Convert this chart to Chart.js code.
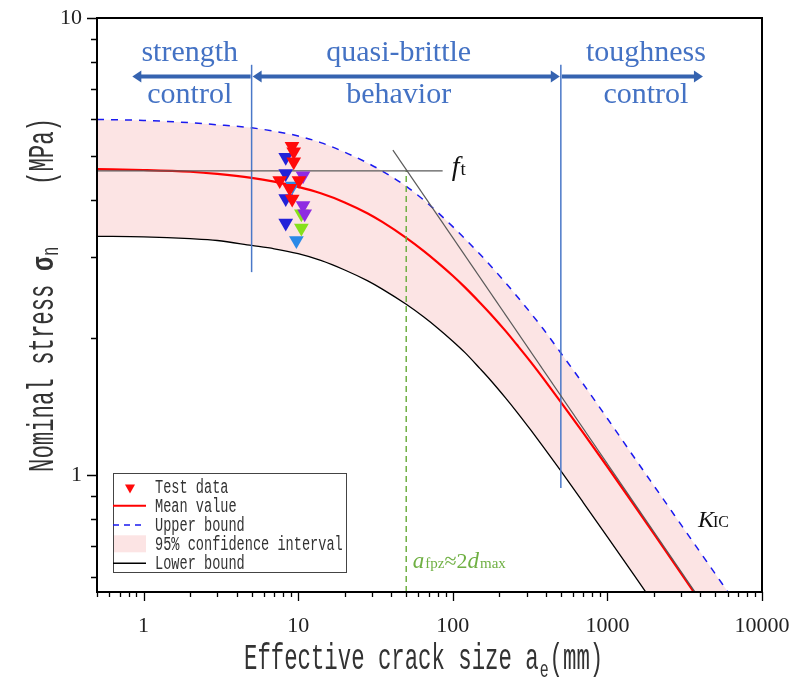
<!DOCTYPE html>
<html><head><meta charset="utf-8">
<script src="https://cdn.jsdelivr.net/npm/chart.js@4.4.1/dist/chart.umd.min.js"></script>
<style>html,body{margin:0;padding:0;background:#fff;}#wrap{width:792px;height:682px;}</style>
</head><body><div id="wrap"><canvas id="c" width="792" height="682"></canvas></div>
<script>
// ---------------- data ----------------
const crackSize  = [0.5, 1, 2, 3, 5, 7, 10, 14, 20, 28, 35, 50, 65, 80, 100, 120, 150, 175, 220, 260, 320, 385, 500, 700, 1000, 1500, 2200, 3500, 5500, 8000];
const meanValue  = [4.67, 4.65, 4.61, 4.56, 4.47, 4.385, 4.27, 4.135, 3.95, 3.74, 3.58, 3.304, 3.091, 2.917, 2.73, 2.575, 2.384, 2.255, 2.065, 1.928, 1.767, 1.628, 1.445, 1.236, 1.043, 0.857, 0.710, 0.5645, 0.451, 0.374];
const upperBound = [6.00, 5.97, 5.90, 5.84, 5.75, 5.654, 5.52, 5.338, 5.087, 4.82, 4.625, 4.284, 3.996, 3.755, 3.496, 3.289, 3.042, 2.876, 2.633, 2.463, 2.26, 2.087, 1.85, 1.58, 1.33, 1.09, 0.905, 0.722, 0.580, 0.483];
const lowerBound = [3.33, 3.32, 3.29, 3.26, 3.18, 3.127, 3.05, 2.949, 2.81, 2.663, 2.552, 2.364, 2.217, 2.096, 1.963, 1.853, 1.71, 1.615, 1.474, 1.374, 1.254, 1.153, 1.021, 0.870, 0.733, 0.602, 0.499, 0.397, 0.317, 0.263];

const testSize   = [9.12, 9.36, 9.36, 7.60, 10.13, 8.82, 9.15, 8.31, 8.31, 8.31, 8.31, 10.75, 10.75, 11.02, 10.49, 10.49, 9.19, 9.74];
const testStress = [5.24, 5.10, 4.85, 4.41, 4.41, 4.24, 4.02, 4.96, 4.57, 4.03, 3.56, 4.52, 3.89, 3.73, 3.73, 3.47, 4.29, 3.26];
const testGroup  = ['A','A','A','A','A','A','A','B','B','B','B','C','C','C','D','D','E','E'];

const ftSize = [0.5, 86];          const ftStress = [4.63, 4.63];
const kicSize = [41, 3690];        const kicStress = [5.14, 0.555];
const fpzSize = [50, 50];          const fpzStress = [0.555, 4.63];
const limit1Size = [5, 5];         const limit1Stress = [2.78, 7.9];
const limit2Size = [500, 500];     const limit2Stress = [0.937, 7.9];

const xTickValues = [1, 10, 100, 1000, 10000];
const xTickLabels = ['1', '10', '100', '1000', '10000'];
const yTickValues = [1, 10];
const yTickLabels = ['1', '10'];

const legendLabels = ['Test data', 'Mean value', 'Upper bound', '95% confidence interval', 'Lower bound'];

// ---------------- styles ----------------
const groupColors = {A:'#ff0a0a', B:'#2222d8', C:'#8e2be2', D:'#86e01c', E:'#2a8ae8'};
const regionColor = '#4472c4';
const arrowColor = '#3563b0';
const mono = '"Liberation Mono", "DejaVu Sans Mono", monospace';
const serif = '"Liberation Serif", "DejaVu Serif", serif';

const pts = (xs, ys) => xs.map((x, i) => ({x, y: ys[i]}));

const groups = ['A','B','C','D','E'];
const testSets = groups.map(g => ({
  label: 'Test data ' + g,
  data: testSize.map((x, i) => ({x, y: testStress[i], g: testGroup[i]})).filter(p => p.g === g),
  pointStyle: 'triangle', rotation: 180, pointRadius: 8.5, pointHoverRadius: 8.5,
  backgroundColor: groupColors[g], borderColor: groupColors[g], borderWidth: 0, showLine: false
}));

const lineSet = (label, data, color, width, dash, extra) => Object.assign({
  label, data, borderColor: color, borderWidth: width, borderDash: dash || [],
  pointRadius: 0, pointHoverRadius: 0, showLine: true, fill: false, backgroundColor: color
}, extra || {});

const datasets = [
  ...testSets,
  lineSet('f_t', pts(ftSize, ftStress), '#5a5a5a', 1.2),
  lineSet('K_IC', pts(kicSize, kicStress), '#5a5a5a', 1.2),
  lineSet('limit1', pts(limit1Size, limit1Stress), '#4a78c8', 1.5),
  lineSet('limit2', pts(limit2Size, limit2Stress), '#4a78c8', 1.5),
  lineSet('a_fpz', pts(fpzSize, fpzStress), '#6fb043', 1.5, [6, 4]),
  lineSet('Mean value', pts(crackSize, meanValue), '#ff0000', 2.2, [], {cubicInterpolationMode: 'monotone'}),
  lineSet('Upper bound', pts(crackSize, upperBound), '#1a1af0', 1.5, [7, 7],
          {cubicInterpolationMode: 'monotone', fill: '+1', backgroundColor: '#fce4e4'}),
  lineSet('Lower bound', pts(crackSize, lowerBound), '#000000', 1.3, [], {cubicInterpolationMode: 'monotone'})
];

// ---------------- helpers ----------------
function txt(ctx, s, x, y, font, color, sx, align, baseline) {
  sx = sx || 1;
  ctx.save();
  ctx.font = font; ctx.fillStyle = color; ctx.textAlign = 'left'; ctx.textBaseline = baseline || 'alphabetic';
  const w = ctx.measureText(s).width * sx;
  const x0 = align === 'center' ? x - w / 2 : align === 'right' ? x - w : x;
  ctx.translate(x0, y); ctx.scale(sx, 1); ctx.fillText(s, 0, 0);
  ctx.restore();
  return w;
}
function arrowHead(ctx, tipX, y, dir, len, half) {
  ctx.beginPath();
  ctx.moveTo(tipX, y);
  ctx.lineTo(tipX - dir * len, y - half);
  ctx.lineTo(tipX - dir * len, y + half);
  ctx.closePath(); ctx.fill();
}

const annotations = {
  arrowStress: 7.45,
  arrowLeft: 0.846, arrowRight: 4150,
  upperTextStress: 8.05, lowerTextStress: 6.52,
  regions: [
    {x: 1.99, top: 'strength', bottom: 'control'},
    {x: 44.7, top: 'quasi-brittle', bottom: 'behavior'},
    {x: 1776, top: 'toughness', bottom: 'control'}
  ],
  ft: {x: 98.6, y: 4.53},
  kic: {x: 3855, y: 0.769},
  fpz: {x: 55.1, y: 0.626}
};

const decor = {
  id: 'decor',
  afterDatasetsDraw(chart) {
    const ctx = chart.ctx, a = chart.chartArea;
    const xs = chart.scales.x, ys = chart.scales.y;
    ctx.save();
    // frame
    ctx.strokeStyle = '#000'; ctx.lineWidth = 2;
    ctx.strokeRect(a.left, a.top, a.right - a.left, a.bottom - a.top);
    // tick marks
    ctx.lineWidth = 1.3;
    ctx.beginPath();
    for (let d = 0.1; d <= 10000; d *= 10) {
      for (let k = 1; k <= 9; k++) {
        const v = Math.round(k * d * 1000) / 1000;
        if (v >= xs.min - 1e-9 && v <= xs.max + 1e-9) {
          const px = Math.round(xs.getPixelForValue(v)) + 0.5;
          ctx.moveTo(px, a.bottom); ctx.lineTo(px, a.bottom + (k === 1 ? 9 : 5));
        }
        if (v >= ys.min - 1e-9 && v <= ys.max + 1e-9) {
          const py = Math.round(ys.getPixelForValue(v)) + 0.5;
          ctx.moveTo(a.left, py); ctx.lineTo(a.left - (k === 1 ? 10 : 6), py);
        }
      }
    }
    ctx.stroke();

    // region arrows
    const ay = ys.getPixelForValue(annotations.arrowStress);
    const xL = xs.getPixelForValue(annotations.arrowLeft);
    const x1 = xs.getPixelForValue(limit1Size[0]);
    const x2 = xs.getPixelForValue(limit2Size[0]);
    const xR = xs.getPixelForValue(annotations.arrowRight);
    ctx.strokeStyle = arrowColor; ctx.fillStyle = arrowColor; ctx.lineWidth = 4;
    ctx.beginPath();
    ctx.moveTo(xL + 6, ay); ctx.lineTo(x1 - 1, ay);
    ctx.moveTo(x1 + 6, ay); ctx.lineTo(x2 - 6, ay);
    ctx.moveTo(x2 + 1, ay); ctx.lineTo(xR - 6, ay);
    ctx.stroke();
    arrowHead(ctx, xL, ay, -1, 9, 6);
    arrowHead(ctx, x1 + 1, ay, -1, 9, 6);
    arrowHead(ctx, x2 - 1, ay, 1, 9, 6);
    arrowHead(ctx, xR, ay, 1, 9, 6);

    // region labels
    const ty1 = ys.getPixelForValue(annotations.upperTextStress);
    const ty2 = ys.getPixelForValue(annotations.lowerTextStress);
    annotations.regions.forEach(r => {
      const cx = xs.getPixelForValue(r.x);
      txt(ctx, r.top, cx, ty1, '30px ' + serif, regionColor, 1, 'center');
      txt(ctx, r.bottom, cx, ty2, '30px ' + serif, regionColor, 1, 'center');
    });

    // f_t label
    let px = xs.getPixelForValue(annotations.ft.x), py = ys.getPixelForValue(annotations.ft.y);
    let w = txt(ctx, 'f', px, py, 'italic 28px ' + serif, '#111');
    txt(ctx, 't', px + w + 1, py, '19px ' + serif, '#111');
    // K_IC label
    px = xs.getPixelForValue(annotations.kic.x); py = ys.getPixelForValue(annotations.kic.y);
    w = txt(ctx, 'K', px, py, 'italic 24px ' + serif, '#111');
    txt(ctx, 'IC', px + w - 1, py, '16px ' + serif, '#111');
    // a_fpz label
    px = xs.getPixelForValue(annotations.fpz.x); py = ys.getPixelForValue(annotations.fpz.y);
    const g = '#6fb043';
    let cx = px;
    cx += txt(ctx, 'a', cx, py, 'italic 23px ' + serif, g);
    cx += txt(ctx, 'fpz', cx + 1, py, '15px ' + serif, g) + 1;
    cx += txt(ctx, '≈2', cx, py, '22px ' + serif, g);
    cx += txt(ctx, 'd', cx, py, 'italic 23px ' + serif, g);
    txt(ctx, 'max', cx + 1, py, '15px ' + serif, g);

    // legend
    const lx = a.left + 16, lt = 473, lw = 233, lh = 99;
    ctx.fillStyle = '#fff'; ctx.fillRect(lx, lt, lw, lh);
    ctx.strokeStyle = '#444'; ctx.lineWidth = 1;
    ctx.strokeRect(lx + 0.5, lt + 0.5, lw, lh);
    const rows = [486.5, 505.7, 525, 544.3, 563.3];
    const sx0 = lx, sx1 = lx + 33, tx = lx + 42;
    ctx.fillStyle = groupColors.A;
    ctx.beginPath(); ctx.moveTo(sx0 + 12, rows[0] - 2); ctx.lineTo(sx0 + 22, rows[0] - 2); ctx.lineTo(sx0 + 17, rows[0] + 7); ctx.closePath(); ctx.fill();
    ctx.lineWidth = 2; ctx.strokeStyle = '#ff0000';
    ctx.beginPath(); ctx.moveTo(sx0, rows[1]); ctx.lineTo(sx1, rows[1]); ctx.stroke();
    ctx.lineWidth = 1.5; ctx.strokeStyle = '#1a1af0'; ctx.setLineDash([6, 5]);
    ctx.beginPath(); ctx.moveTo(sx0, rows[2]); ctx.lineTo(sx1, rows[2]); ctx.stroke();
    ctx.setLineDash([]);
    ctx.fillStyle = '#fce4e4'; ctx.fillRect(sx0 + 1, rows[3] - 9, 32, 17);
    ctx.lineWidth = 1.5; ctx.strokeStyle = '#000';
    ctx.beginPath(); ctx.moveTo(sx0, rows[4]); ctx.lineTo(sx1, rows[4]); ctx.stroke();
    legendLabels.forEach((s, i) => txt(ctx, s, tx, rows[i] + 6, '20px ' + mono, '#333', 0.68));

    // axis titles
    const tf = '36px ' + mono, sf = '24px ' + mono, tsx = 0.62;
    let xx = 244;
    xx += txt(ctx, 'Effective crack size a', xx, 669, tf, '#333', tsx);
    xx += txt(ctx, 'e', xx + 1, 677, sf, '#333', tsx) + 2;
    txt(ctx, '(mm)', xx, 669, tf, '#333', tsx);
    ctx.save();
    ctx.translate(53, 472); ctx.rotate(-Math.PI / 2);
    let yy = 0;
    yy += txt(ctx, 'Nominal stress ', 0, 0, tf, '#333', tsx);
    yy += txt(ctx, 'σ', yy, 0, 'bold 32px ' + mono, '#333', 0.75);
    yy += txt(ctx, 'n', yy + 1, 5, sf, '#333', tsx);
    txt(ctx, '(MPa)', 472 - 118, 0, tf, '#333', tsx, 'right');
    ctx.restore();

    ctx.restore();
  }
};

new Chart(document.getElementById('c'), {
  type: 'scatter',
  data: {datasets},
  options: {
    responsive: false, animation: false, devicePixelRatio: 1,
    layout: {padding: {top: 18, right: 30, left: 0, bottom: 0}},
    plugins: {legend: {display: false}, tooltip: {enabled: false}, filler: {drawTime: 'beforeDatasetsDraw'}},
    scales: {
      x: {
        type: 'logarithmic', min: 0.5, max: 10000,
        afterFit(s) { s.height = 90; s.paddingLeft = 0; s.paddingRight = 0; },
        afterBuildTicks(s) { s.ticks = xTickValues.map(v => ({value: v})); },
        ticks: {autoSkip: false, maxRotation: 0, padding: 21, color: '#222',
                font: {family: serif, size: 22},
                callback: (v, i) => xTickLabels[i]},
        grid: {display: false, drawTicks: false}, border: {display: false}
      },
      y: {
        type: 'logarithmic', min: 0.555, max: 10,
        afterFit(s) { s.width = 97; s.paddingTop = 0; s.paddingBottom = 0; },
        afterBuildTicks(s) { s.ticks = yTickValues.map(v => ({value: v})); },
        ticks: {autoSkip: false, padding: 15, color: '#222',
                font: {family: serif, size: 22},
                callback: (v, i) => yTickLabels[i]},
        grid: {display: false, drawTicks: false}, border: {display: false}
      }
    }
  },
  plugins: [decor]
});
</script></body></html>
